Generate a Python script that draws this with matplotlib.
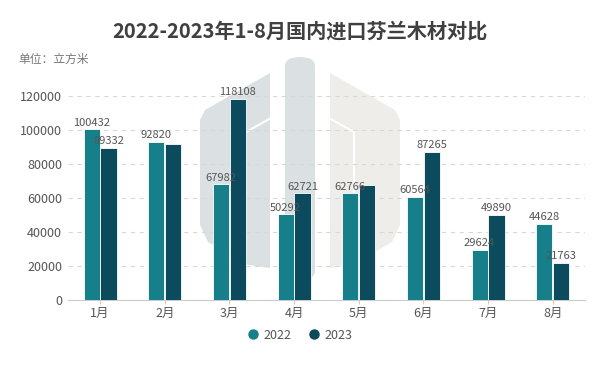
import matplotlib.pyplot as plt
from matplotlib.lines import Line2D
from matplotlib.patches import Polygon, FancyBboxPatch
import numpy as np

plt.rcParams['font.family'] = ['Noto Sans CJK SC', 'DejaVu Sans']

months = ['1月', '2月', '3月', '4月', '5月', '6月', '7月', '8月']
v2022 = [100432, 92820, 67982, 50292, 62766, 60564, 29624, 44628]
v2023 = [89332, 92000, 118108, 62721, 67500, 87265, 49890, 21763]
labels2022 = ['100432', '92820', '67982', '50292', '62766', '60564', '29624', '44628']
labels2023 = ['89332', '', '118108', '62721', '', '87265', '49890', '21763']

c2022 = '#167f89'
c2023 = '#0b4b5d'

W, H = 600, 369
fig = plt.figure(figsize=(6, 3.69), dpi=100)


def px(pts):
    # pixel coords (from top-left) -> figure fraction
    return [(x / W, 1 - y / H) for x, y in pts]


# faint logo watermark behind the chart
grey = '#dbe1e3'
beige = '#eeede9'
left = [(270, 73), (205, 110), (200, 120), (200, 225), (208, 242), (248, 265), (270, 268)]
right = [(W - x, y) for x, y in left]
fig.patches.append(Polygon(px(left), closed=True, transform=fig.transFigure,
                           facecolor=grey, edgecolor='none', zorder=0))
fig.patches.append(Polygon(px(right), closed=True, transform=fig.transFigure,
                           facecolor=beige, edgecolor='none', zorder=0))
fig.patches.append(FancyBboxPatch((285 / W, 1 - 280 / H), 30 / W, 223 / H,
                                  boxstyle='round,pad=0,rounding_size=0.025',
                                  transform=fig.transFigure, facecolor=grey,
                                  edgecolor='none', zorder=0))
fig.lines.append(Line2D(*zip(*px([(271, 118), (246, 132), (246, 255)])), transform=fig.transFigure,
                        color='white', linewidth=1.5, zorder=0.5))
fig.lines.append(Line2D(*zip(*px([(329, 118), (354, 132), (354, 255)])), transform=fig.transFigure,
                        color='white', linewidth=1.5, zorder=0.5))

ax = fig.add_axes([0.113, 0.187, 0.862, 0.553])
ax.set_zorder(2)
ax.patch.set_alpha(0)

x = np.arange(len(months))
w = 0.25
b1 = ax.bar(x - w / 2 - 0.005, v2022, w, color=c2022, edgecolor='white', linewidth=0.6, zorder=3, label='2022')
b2 = ax.bar(x + w / 2 + 0.005, v2023, w, color=c2023, edgecolor='white', linewidth=0.6, zorder=3, label='2023')

for rect, t in zip(b1, labels2022):
    ax.text(rect.get_x() + rect.get_width() / 2, rect.get_height() + 1000, t,
            ha='center', va='bottom', fontsize=8, color='#555555', zorder=4)
for rect, t in zip(b2, labels2023):
    ax.text(rect.get_x() + rect.get_width() / 2, rect.get_height() + 1000, t,
            ha='center', va='bottom', fontsize=8, color='#555555', zorder=4)

ax.set_xlim(-0.5, 7.5)
ax.set_ylim(0, 120000)
ax.set_yticks(range(0, 120001, 20000))
ax.set_xticks(x)
ax.set_xticklabels(months)
ax.tick_params(axis='y', length=0, labelsize=9, colors='#555555', pad=4)
ax.tick_params(axis='x', length=3, color='#cccccc', labelsize=9, labelcolor='#555555', pad=2)
ax.yaxis.grid(True, linestyle=(0, (4, 4)), color='#d8d8d8', linewidth=0.8, zorder=1)
for s in ['top', 'right', 'left']:
    ax.spines[s].set_visible(False)
ax.spines['bottom'].set_color('#cccccc')

fig.text(0.5, 0.915, '2022-2023年1-8月国内进口芬兰木材对比', ha='center', va='center',
         fontsize=14.5, fontweight='bold', color='#404040')
fig.text(0.03, 0.838, '单位：立方米', ha='left', va='center', fontsize=8.5, color='#777777')

handles = [Line2D([], [], marker='o', linestyle='', markersize=6.5, color=c2022),
           Line2D([], [], marker='o', linestyle='', markersize=6.5, color=c2023)]
fig.legend(handles=handles, labels=['2022', '2023'], loc='center', bbox_to_anchor=(0.5, 0.092),
           ncol=2, frameon=False, fontsize=9, handlelength=0.8, handletextpad=0.45,
           columnspacing=1.4, labelcolor='#555555')

fig.savefig('out.png', dpi=100)
